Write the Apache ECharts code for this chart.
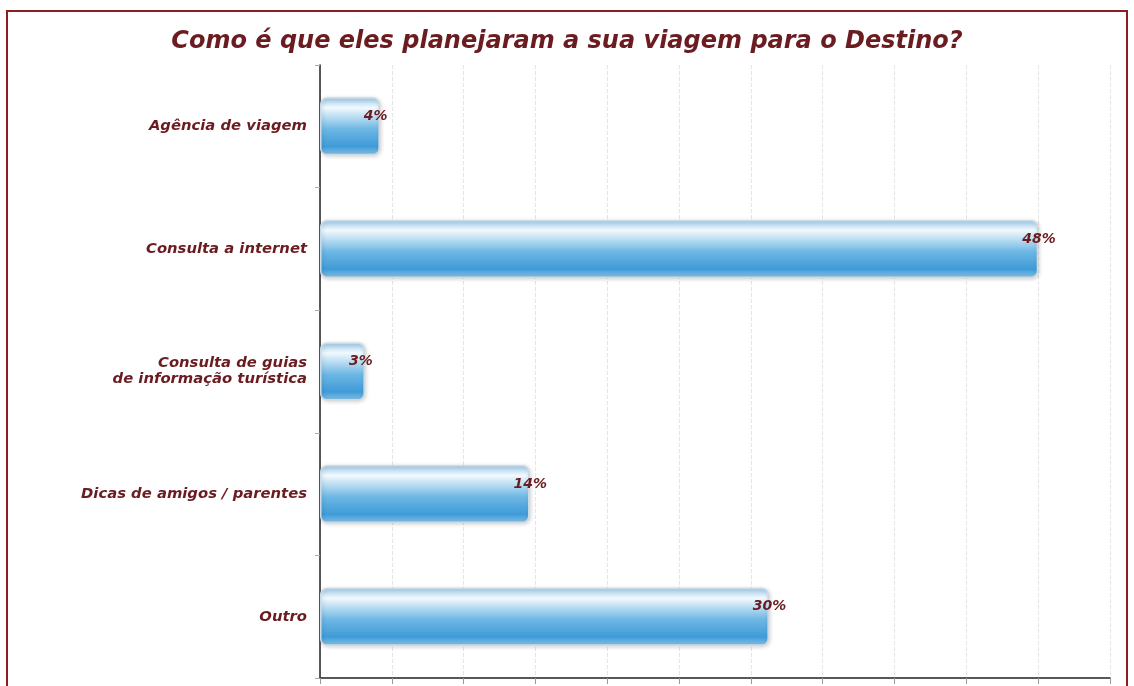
<!DOCTYPE html>
<html>
<head>
<meta charset="utf-8">
<script src="https://cdn.jsdelivr.net/npm/echarts@6/dist/echarts.min.js"></script>
<style>
  html, body { margin: 0; padding: 0; background: #fff; }
  #chart { width: 1134px; height: 686px; }
</style>
</head>
<body>
<div id="chart"></div>
<script>
// dados
var categorias = ['Agência de viagem', 'Consulta a internet', 'Consulta de guias\nde informação turística', 'Dicas de amigos / parentes', 'Outro'];
var valores = [4, 48, 3, 14, 30];

var vinho = '#6a1c20';
var myChart = echarts.init(document.getElementById('chart'));

var gradiente = new echarts.graphic.LinearGradient(0, 0, 0, 1, [
  { offset: 0, color: '#9ccbec' },
  { offset: 0.18, color: '#f2f9fd' },
  { offset: 0.55, color: '#6db7e4' },
  { offset: 0.85, color: '#3f9bd8' },
  { offset: 1, color: '#8cc3e6' }
]);

option = {
  animation: false,
  title: {
    text: 'Como é que eles planejaram a sua viagem para o Destino?',
    left: 'center',
    top: 25,
    textStyle: {
      fontFamily: 'DejaVu Sans',
      fontStyle: 'italic',
      fontWeight: 'bold',
      fontSize: 24,
      color: vinho
    }
  },
  graphic: [
    {
      type: 'rect',
      shape: { x: 7, y: 11, width: 1120, height: 690 },
      style: { fill: 'none', stroke: '#8b1c1f', lineWidth: 2 }
    }
  ],
  grid: { left: 320, right: 24, top: 65, bottom: 8 },
  xAxis: {
    type: 'value',
    min: 0,
    max: 52.8,
    interval: 4.8,
    axisLine: { show: true, lineStyle: { color: '#222', width: 1.5 } },
    axisTick: { show: true, length: 6, lineStyle: { color: '#999' } },
    axisLabel: { show: false },
    splitLine: { show: true, lineStyle: { color: '#e4e4e4', type: 'dashed' } }
  },
  yAxis: {
    type: 'category',
    inverse: true,
    data: categorias,
    axisLine: { show: true, lineStyle: { color: '#222', width: 1.5 } },
    axisTick: { show: true, length: 5, lineStyle: { color: '#aaa' } },
    axisLabel: {
      margin: 13,
      fontFamily: 'DejaVu Sans',
      fontStyle: 'italic',
      fontWeight: 'bold',
      fontSize: 14.8,
      lineHeight: 16,
      color: vinho,
      align: 'right'
    }
  },
  series: [
    {
      type: 'bar',
      data: valores,
      barWidth: 58,
      itemStyle: {
        color: gradiente,
        borderColor: '#c9dbe6',
        borderWidth: 1.5,
        borderRadius: 6,
        shadowColor: 'rgba(0,0,0,0.18)',
        shadowBlur: 4,
        shadowOffsetX: 1,
        shadowOffsetY: 1
      },
      label: {
        show: true,
        position: 'right',
        distance: 5,
        offset: [-21, -10],
        formatter: '{c}%',
        fontFamily: 'DejaVu Sans',
        fontStyle: 'italic',
        fontWeight: 'bold',
        fontSize: 14,
        color: vinho
      }
    }
  ]
};

myChart.setOption(option);
</script>
</body>
</html>
